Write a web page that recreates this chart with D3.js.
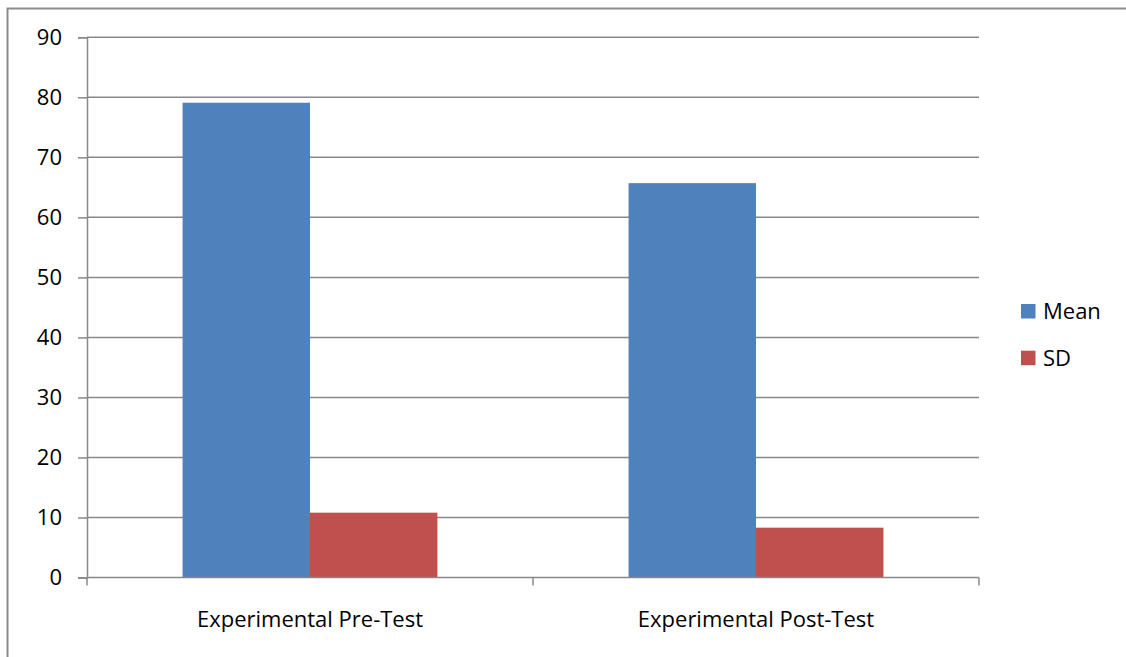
<!DOCTYPE html>
<html>
<head>
<meta charset="utf-8">
<script src="https://cdn.jsdelivr.net/npm/d3@7"></script>
<style>
  html, body { margin: 0; padding: 0; background: #fff; }
  svg { display: block; }
  text { font-family: "Open Sans", "Noto Sans", sans-serif; fill: #000; }
</style>
</head>
<body>
<div id="chart"></div>
<script>
// Group means and standard deviations for the experimental group
const categories = ["Experimental Pre-Test", "Experimental Post-Test"];
const seriesNames = ["Mean", "SD"];
const meanValues = [79.1, 65.7];
const sdValues = [10.8, 8.3];
const yTicks = [0, 10, 20, 30, 40, 50, 60, 70, 80, 90];
const colors = ["#4F81BD", "#C0504D"];

const W = 1126, H = 657;
const plot = { left: 87, right: 979, top: 37.3, bottom: 577.5 };
const FONT = "22px";

const svg = d3.select("#chart").append("svg")
  .attr("width", W).attr("height", H);

// outer chart frame (only left and top edges fall inside the view)
svg.append("rect")
  .attr("x", 7.5).attr("y", 8.5)
  .attr("width", W + 20).attr("height", H + 20)
  .attr("fill", "none").attr("stroke", "#8c8c8c").attr("stroke-width", 2);

const x0 = d3.scaleBand().domain(categories)
  .range([plot.left, plot.right]).paddingInner(0).paddingOuter(0);
const x1 = d3.scaleBand().domain(seriesNames)
  .range([0, x0.bandwidth()]).paddingInner(0).paddingOuter(0.75);
const y = d3.scaleLinear().domain([0, 90]).range([plot.bottom, plot.top]);

// horizontal gridlines
svg.append("g").selectAll("line")
  .data(yTicks.filter(d => d > 0))
  .join("line")
  .attr("x1", plot.left).attr("x2", plot.right)
  .attr("y1", d => y(d)).attr("y2", d => y(d))
  .attr("stroke", "#888").attr("stroke-width", 1.5);

// bars
const rows = categories.map((c, i) => ({ cat: c, vals: [meanValues[i], sdValues[i]] }));
const groups = svg.append("g").selectAll("g")
  .data(rows).join("g")
  .attr("transform", d => `translate(${x0(d.cat)},0)`);
groups.selectAll("rect")
  .data(d => d.vals.map((v, j) => ({ key: seriesNames[j], v, j })))
  .join("rect")
  .attr("x", d => x1(d.key))
  .attr("width", x1.bandwidth())
  .attr("y", d => y(d.v))
  .attr("height", d => y(0) - y(d.v))
  .attr("fill", d => colors[d.j]);

// y axis
const yAxis = d3.axisLeft(y).tickValues(yTicks).tickSize(9).tickPadding(16);
const gy = svg.append("g").attr("transform", `translate(${plot.left},0)`).call(yAxis);
gy.select(".domain").attr("stroke", "#888").attr("stroke-width", 1.5);
gy.selectAll(".tick line").attr("stroke", "#888").attr("stroke-width", 1.5);
gy.selectAll(".tick text").style("font-size", FONT)
  .style("font-family", "'Open Sans', sans-serif").attr("fill", "#000");

// x axis
const gx = svg.append("g").attr("transform", `translate(0,${plot.bottom})`);
gx.append("line").attr("x1", plot.left).attr("x2", plot.right)
  .attr("y1", 0).attr("y2", 0).attr("stroke", "#888").attr("stroke-width", 1.5);
const xBounds = [plot.left].concat(categories.map(c => x0(c) + x0.bandwidth()));
gx.selectAll("line.tk").data(xBounds).join("line").attr("class", "tk")
  .attr("x1", d => d).attr("x2", d => d).attr("y1", 0).attr("y2", 8)
  .attr("stroke", "#888").attr("stroke-width", 1.5);
gx.selectAll("text").data(categories).join("text")
  .attr("x", d => x0(d) + x0.bandwidth() / 2)
  .attr("y", 49.5)
  .attr("text-anchor", "middle")
  .style("font-size", FONT)
  .text(d => d);

// legend
const legend = svg.append("g").attr("transform", "translate(1021,304)");
const li = legend.selectAll("g").data(seriesNames).join("g")
  .attr("transform", (d, i) => `translate(0,${i * 46.7})`);
li.append("rect").attr("width", 14.5).attr("height", 14.5)
  .attr("fill", (d, i) => colors[i]);
li.append("text").attr("x", 22).attr("y", 15)
  .style("font-size", FONT).text(d => d);
</script>
</body>
</html>
